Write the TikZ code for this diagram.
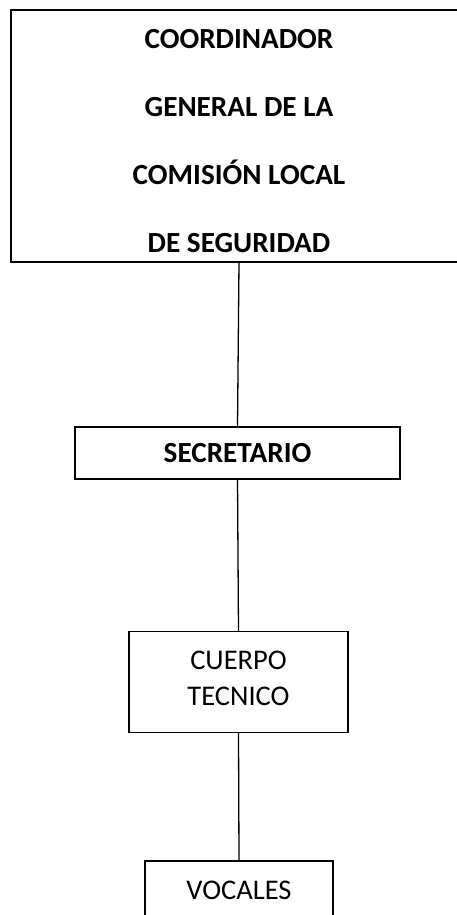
\documentclass[tikz,border=0pt]{standalone}
\usepackage{fontspec}
\setmainfont{Carlito}

\begin{document}
\begin{tikzpicture}[x=1pt, y=-1pt,
    orgbox/.style={draw, line width=1.3pt, inner sep=0pt, align=center, font=\fontsize{28.5}{36}\selectfont},
    link/.style={line width=1.3pt}]
\useasboundingbox (0,0) rectangle (456,915);

% Coordinador general (runs off the right edge)
\node[orgbox, font=\bfseries\fontsize{29.2}{68}\selectfont, minimum width=456pt, minimum height=252pt] (coord) at (239,136)
    {\rule{0pt}{29pt}COORDINADOR\\GENERAL DE LA\\COMISIÓN LOCAL\\DE SEGURIDAD};

% Secretario
\node[orgbox, font=\bfseries\fontsize{29.2}{36}\selectfont, minimum width=325pt, minimum height=52pt] (secr) at (237.5,453) {SECRETARIO};

% Cuerpo tecnico
\node[orgbox, minimum width=219pt, minimum height=101pt] (tecnico) at (238.5,682) {CUERPO\\TECNICO\rule[-8pt]{0pt}{8pt}};

% Vocales (cut at the bottom)
\node[orgbox, minimum width=188pt, minimum height=58pt] (vocales) at (239,890) {VOCALES};

% Links
\draw[link] (coord.south) -- (secr.north);
\draw[link] (secr.south) -- (tecnico.north);
\draw[link] (tecnico.south) -- (vocales.north);
\end{tikzpicture}
\end{document}
